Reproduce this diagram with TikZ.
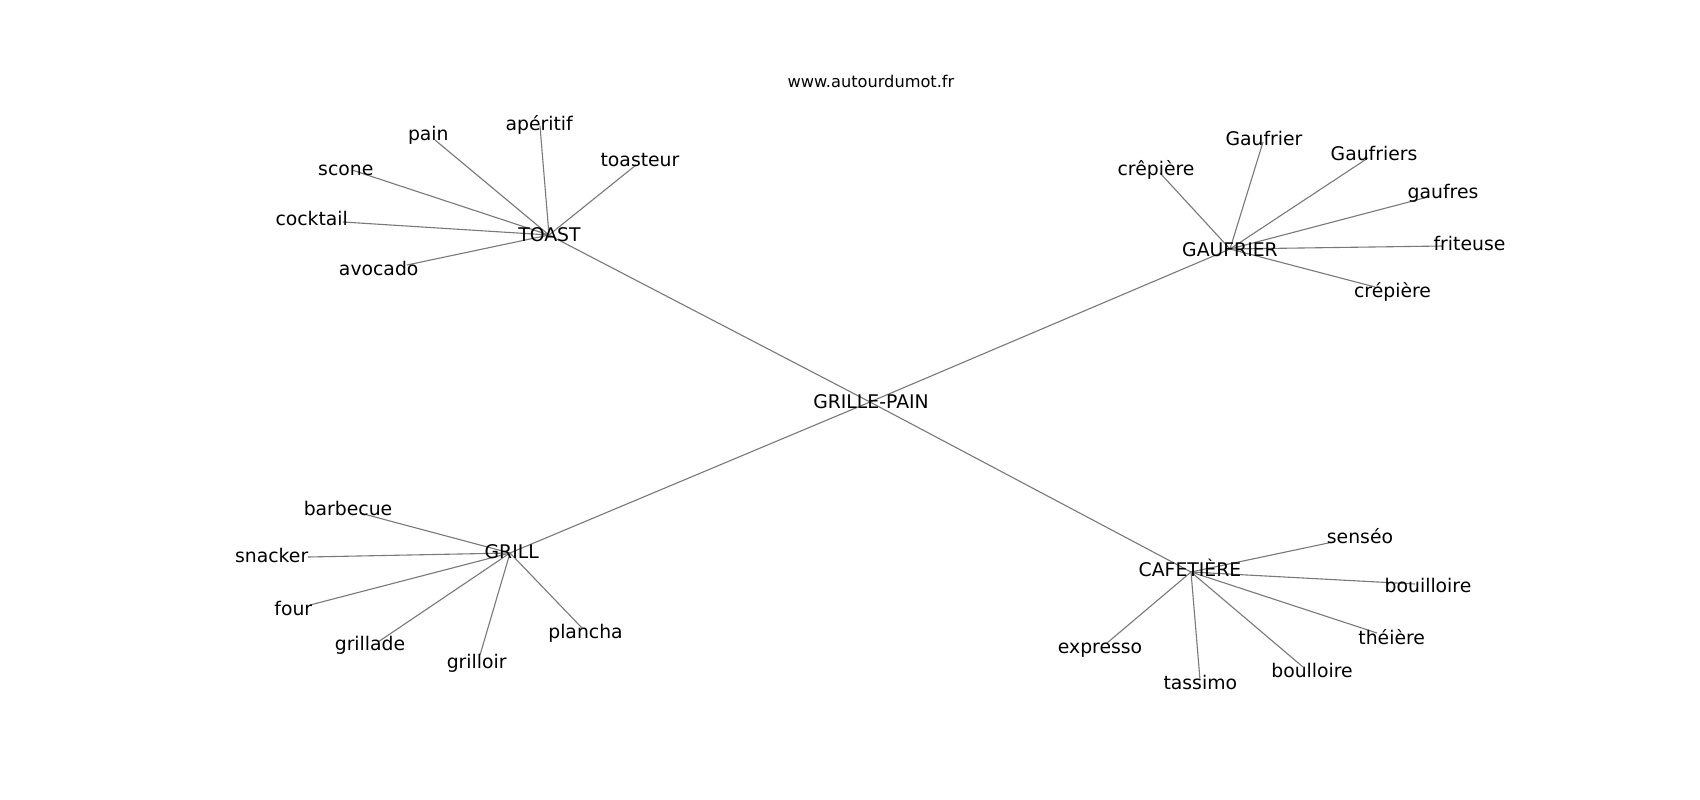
\documentclass[tikz,border=0pt]{standalone}
\usepackage{fontspec}
\setmainfont{DejaVu Sans}
\begin{document}
\begin{tikzpicture}[x={(1pt,0)},y={(0,-1pt)},
  lbl/.style={anchor=base,inner sep=0pt,font=\fontsize{18.8}{22}\selectfont,text=black},
  ttl/.style={anchor=base,inner sep=0pt,font=\fontsize{16.2}{19}\selectfont,text=black},
  edge/.style={draw=gray!95!black,line width=1.1pt}]
\useasboundingbox[fill=white] (0,0) rectangle (1700,800);
% hub points
\coordinate (p-gp) at (870,402);
\coordinate (p-toast) at (549,235);
\coordinate (p-gauf) at (1230,249);
\coordinate (p-grill) at (510,553);
\coordinate (p-caf) at (1191,572);
% leaf points TOAST
\coordinate (p-pain) at (435,140);
\coordinate (p-aperitif) at (540,126);
\coordinate (p-toasteur) at (636,165);
\coordinate (p-scone) at (352,170);
\coordinate (p-cocktail) at (343,222);
\coordinate (p-avocado) at (407,265);
% leaf points GAUFRIER
\coordinate (p-crepiere1) at (1160,173);
\coordinate (p-Gaufrier) at (1263,142);
\coordinate (p-Gaufriers) at (1368,158);
\coordinate (p-gaufres) at (1428,197);
\coordinate (p-friteuse) at (1443,246);
\coordinate (p-crepiere2) at (1375,287);
% leaf points GRILL
\coordinate (p-barbecue) at (360,513);
\coordinate (p-snacker) at (308,557);
\coordinate (p-four) at (310,605);
\coordinate (p-grillade) at (378,642);
\coordinate (p-grilloir) at (480,655);
\coordinate (p-plancha) at (582,628);
% leaf points CAFETIERE
\coordinate (p-senseo) at (1333,542);
\coordinate (p-bouilloire) at (1415,584);
\coordinate (p-theiere) at (1377,633);
\coordinate (p-boulloire) at (1303,667);
\coordinate (p-tassimo) at (1200,680);
\coordinate (p-expresso) at (1107,643);
% edges
\foreach \h in {toast,gauf,grill,caf} \draw[edge] (p-gp) -- (p-\h);
\foreach \l in {pain,aperitif,toasteur,scone,cocktail,avocado} \draw[edge] (p-toast) -- (p-\l);
\foreach \l in {crepiere1,Gaufrier,Gaufriers,gaufres,friteuse,crepiere2} \draw[edge] (p-gauf) -- (p-\l);
\foreach \l in {barbecue,snacker,four,grillade,grilloir,plancha} \draw[edge] (p-grill) -- (p-\l);
\foreach \l in {senseo,bouilloire,theiere,boulloire,tassimo,expresso} \draw[edge] (p-caf) -- (p-\l);
% labels
\node[ttl] (title) at (871,88) {www.autourdumot.fr};
\node[lbl] (gp) at (871,408) {GRILLE-PAIN};
\node[lbl] (toast) at (549.5,241) {TOAST};
\node[lbl] (gauf) at (1230,256) {GAUFRIER};
\node[lbl] (grill) at (511.7,558.3) {GRILL};
\node[lbl] (caf) at (1190,576.7) {CAFETIÈRE};
\node[lbl] (pain) at (428.3,140.7) {pain};
\node[lbl] (aperitif) at (539.2,130) {apéritif};
\node[lbl] (toasteur) at (640,166) {toasteur};
\node[lbl] (scone) at (345.8,175) {scone};
\node[lbl] (cocktail) at (311.7,225.7) {cocktail};
\node[lbl] (avocado) at (378.7,275.7) {avocado};
\node[lbl] (crepiere1) at (1156,175) {crêpière};
\node[lbl] (Gaufrier) at (1264,145) {Gaufrier};
\node[lbl] (Gaufriers) at (1374,160) {Gaufriers};
\node[lbl] (gaufres) at (1443,198.3) {gaufres};
\node[lbl] (friteuse) at (1469.5,250.7) {friteuse};
\node[lbl] (crepiere2) at (1392.5,297.3) {crépière};
\node[lbl] (barbecue) at (348,515.7) {barbecue};
\node[lbl] (snacker) at (271.7,562.7) {snacker};
\node[lbl] (four) at (293.3,615) {four};
\node[lbl] (grillade) at (370,650.7) {grillade};
\node[lbl] (grilloir) at (476.7,668.3) {grilloir};
\node[lbl] (plancha) at (585.5,638.3) {plancha};
\node[lbl] (senseo) at (1360,543.3) {senséo};
\node[lbl] (bouilloire) at (1428,592.3) {bouilloire};
\node[lbl] (theiere) at (1391.7,644) {théière};
\node[lbl] (boulloire) at (1312,677.3) {boulloire};
\node[lbl] (tassimo) at (1200.3,689) {tassimo};
\node[lbl] (expresso) at (1100,653.3) {expresso};
\end{tikzpicture}
\end{document}
